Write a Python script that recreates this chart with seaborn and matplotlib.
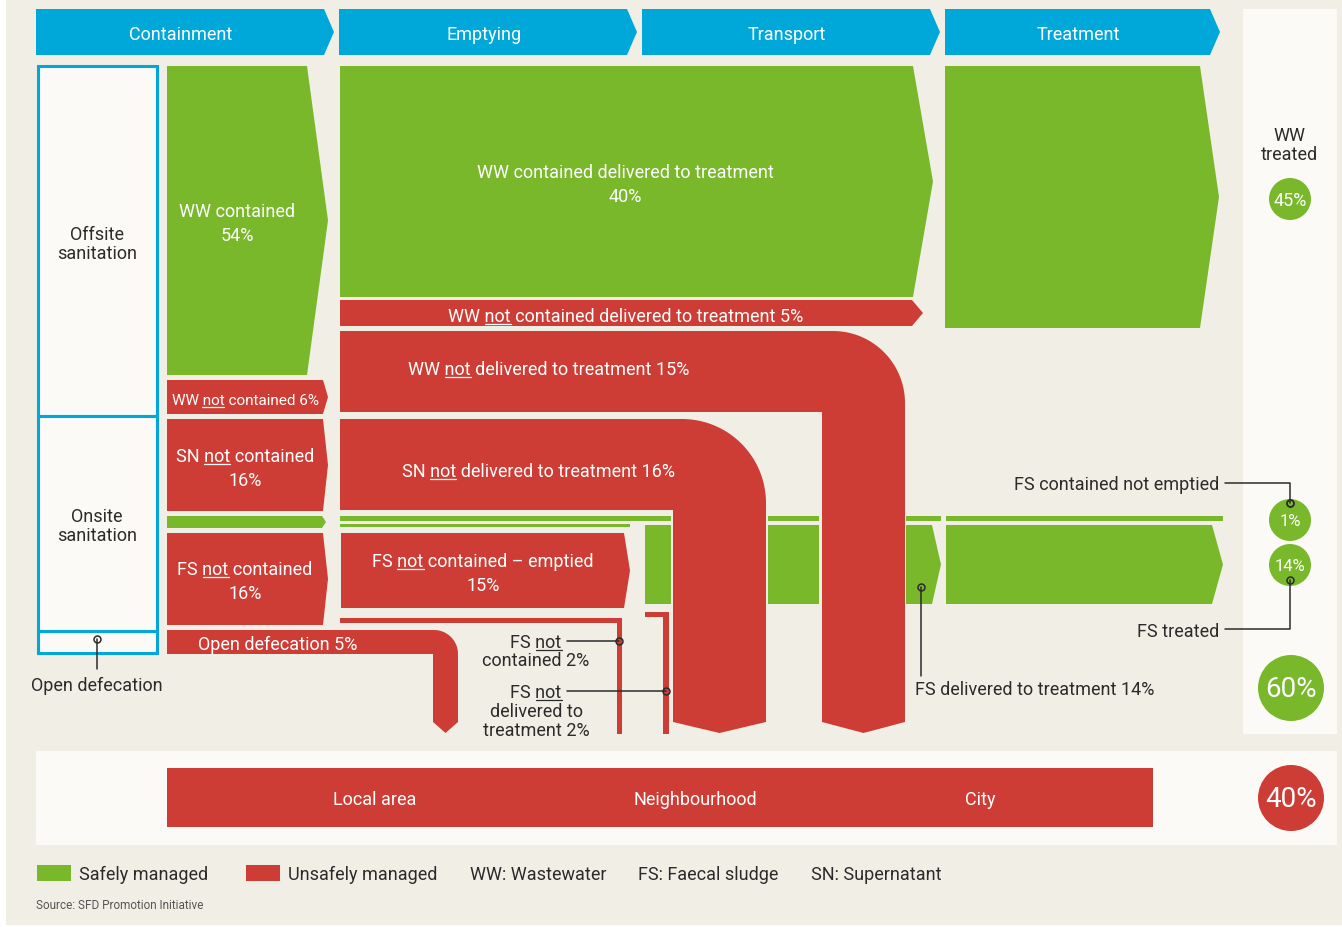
import numpy as np
import matplotlib
matplotlib.use("Agg")
import matplotlib.pyplot as plt
from matplotlib.patches import Polygon, Rectangle, Circle
import seaborn as sns

# ---------------- data ----------------
stages = ["Containment", "Emptying", "Transport", "Treatment"]
system_types = ["Offsite\nsanitation", "Onsite\nsanitation", "Open defecation"]

containment_labels = ["WW contained", "WW not contained", "SN not contained",
                      "FS not contained", "Open defecation"]
containment_values = [54, 6, 16, 16, 5]

emptying_labels = ["WW contained delivered to treatment",
                   "WW not contained delivered to treatment",
                   "WW not delivered to treatment",
                   "SN not delivered to treatment",
                   "FS not contained – emptied"]
emptying_values = [40, 5, 15, 16, 15]

fs_labels = ["FS not contained", "FS not delivered to treatment", "FS delivered to treatment"]
fs_values = [2, 2, 14]

outcome_labels = ["WW treated", "FS contained not emptied", "FS treated"]
outcome_values = [45, 1, 14]

safe_total = 60
unsafe_total = 40
exposure_areas = ["Local area", "Neighbourhood", "City"]
legend_labels = ["Safely managed", "Unsafely managed"]
abbreviations = ["WW: Wastewater", "FS: Faecal sludge", "SN: Supernatant"]
source = "Source: SFD Promotion Initiative"

# ---------------- style ----------------
sns.set_theme(style="white")
plt.rcParams["font.family"] = ["Roboto", "DejaVu Sans"]
GREEN, RED = sns.color_palette(["#79b82b", "#cd3d35"])
BLUE = "#00a8d9"
BG = "#f1efe5"
PANEL = "#fbfaf6"
INK = "#2b2b2b"
FS = 13  # base font size

fig = plt.figure(figsize=(13.42, 9.28), dpi=100)
ax = fig.add_axes([0, 0, 1, 1])
ax.set_xlim(0, 1342)
ax.set_ylim(928, 0)
ax.axis("off")
renderer = fig.canvas.get_renderer()


def rect(x0, y0, x1, y1, color, **kw):
    ax.add_patch(Rectangle((x0, y0), x1 - x0, y1 - y0, fc=color, ec="none", **kw))


def poly(pts, color):
    ax.add_patch(Polygon(pts, closed=True, fc=color, ec="none"))


def chevron(x0, y0, x1, y1, tip, color):
    ym = (y0 + y1) / 2
    poly([(x0, y0), (x1, y0), (tip, ym), (x1, y1), (x0, y1)], color)


def bend(x0, y0, y1, xi, xr, ybot, r, color):
    # horizontal band turning down into a vertical arrow
    cx, cy = xr - r, y0 + r
    t = np.linspace(np.pi / 2, 0, 40)
    arc = list(zip(cx + r * np.cos(t), cy - r * np.sin(t)))
    pts = [(x0, y0)] + arc + [(xr, ybot), ((xi + xr) / 2, ybot + 11), (xi, ybot), (xi, y1), (x0, y1)]
    poly(pts, color)


def text_width(s, size):
    tmp = ax.text(0, 0, s, fontsize=size)
    w = tmp.get_window_extent(renderer).width
    tmp.remove()
    return w


def label(x, y, lines, color="white", size=FS, ha="center", lh=24, ul=False):
    # draws lines from baseline y; underlines the first "not" when ul
    for i, line in enumerate(lines):
        yb = y + i * lh
        t = ax.text(x, yb, line, color=color, fontsize=size, ha=ha, va="baseline")
        if ul and i == 0 and "not" in line:
            bb = t.get_window_extent(renderer)
            pre = line.split("not")[0] + "not"
            xe = bb.x0 + text_width(pre, size)
            xs = xe - text_width("not", size)
            ax.plot([xs, xe], [yb + 2.5, yb + 2.5], color=color, lw=0.9)


def callout(xy_pts, end):
    xs, ys = zip(*xy_pts)
    ax.plot(xs, ys, color=INK, lw=1.1)
    ax.plot(*end, marker="o", ms=5, mfc="none", mec=INK, mew=1.1)


def disc(x, y, r, color, txt, size):
    ax.add_patch(Circle((x, y), r, fc=color, ec="none"))
    ax.text(x, y + 1, txt, color="white", fontsize=size, ha="center", va="center")


# ---------------- background & panels ----------------
rect(6, 0, 1342, 926, BG)
rect(1243, 10, 1337, 735, PANEL)
rect(36, 752, 1337, 846, PANEL)

# stage headers
head_x = [(36, 324, 334), (339, 627, 637), (642, 930, 940), (945, 1210, 1220)]
for name, (x0, x1, tip) in zip(stages, head_x):
    chevron(x0, 10, x1, 56, tip, BLUE)
    ax.text((x0 + x1) / 2 + 1, 35, name, color="white", fontsize=FS, ha="center", va="center")

# system type boxes
for (y0, y1) in [(67, 417), (417, 632), (632, 654)]:
    ax.add_patch(Rectangle((38, y0), 119, y1 - y0, fc=PANEL, ec=BLUE, lw=2.2))
label(97, 240, system_types[0].split("\n"), color=INK, lh=19)
label(97, 522, system_types[1].split("\n"), color=INK, lh=19)
callout([(97, 640), (97, 670)], (97, 640))
label(97, 691, [system_types[2]], color=INK)

# ---------------- containment ----------------
chevron(167, 67, 307, 376, 328, GREEN)
label(237, 217, [containment_labels[0], f"{containment_values[0]}%"])
chevron(167, 381, 323, 415, 328, RED)
label(245, 405, [f"{containment_labels[1]} {containment_values[1]}%"], size=11, ul=True)
chevron(167, 420, 323, 512, 328, RED)
label(245, 462, [containment_labels[2], f"{containment_values[2]}%"], ul=True)
chevron(167, 517, 322, 529, 326, GREEN)
chevron(167, 534, 323, 626, 328, RED)
label(245, 575, [containment_labels[3], f"{containment_values[3]}%"], ul=True)
bend(167, 631, 655, 433, 458, 723, 24, RED)
label(278, 650, [f"{containment_labels[4]} {containment_values[4]}%"])

# ---------------- emptying / transport ----------------
chevron(340, 67, 913, 298, 933, GREEN)
label(625, 178, [emptying_labels[0], f"{emptying_values[0]}%"])
chevron(340, 301, 912, 327, 923, RED)
label(626, 322, [f"{emptying_labels[1]} {emptying_values[1]}%"], ul=True)
bend(340, 332, 413, 822, 905, 723, 72, RED)
label(549, 375, [f"{emptying_labels[2]} {emptying_values[2]}%"], ul=True)
bend(340, 420, 511, 673, 766, 723, 84, RED)
label(538, 477, [f"{emptying_labels[3]} {emptying_values[3]}%"], ul=True)

# thin green strips (FS contained, not emptied)
for (x0, x1) in [(340, 671), (768, 819), (906, 941), (946, 1223)]:
    rect(x0, 517, x1, 522, GREEN)
rect(340, 525, 630, 528, GREEN)

chevron(341, 534, 624, 609, 630, RED)
label(483, 567, [emptying_labels[4], f"{emptying_values[4]}%"], ul=True)

# FS delivered to treatment (green blocks across emptying/transport/treatment)
rect(645, 526, 671, 605, GREEN)
rect(768, 526, 819, 605, GREEN)
chevron(906, 526, 932, 605, 941, GREEN)
chevron(946, 526, 1212, 605, 1223, GREEN)

# thin red L-shapes
rect(340, 619, 622, 624, RED)
rect(617, 619, 622, 735, RED)
rect(645, 613, 669, 618, RED)
rect(663, 613, 669, 735, RED)

callout([(567, 642), (619, 642)], (619, 642))
label(536, 648, [fs_labels[0].replace(" contained", ""), f"contained {fs_values[0]}%"],
      color=INK, lh=18, ul=True)
callout([(567, 692), (666, 692)], (666, 692))
label(536, 698, ["FS not", "delivered to", f"treatment {fs_values[1]}%"], color=INK, lh=19, ul=True)

callout([(921, 588), (921, 677)], (921, 588))
label(915, 695, [f"{fs_labels[2]} {fs_values[2]}%"], color=INK, ha="left")

# ---------------- treatment ----------------
chevron(945, 67, 1200, 329, 1219, GREEN)

label(1289, 141, outcome_labels[0].split(" "), color=INK, lh=19)
disc(1290, 200, 21, GREEN, f"{outcome_values[0]}%", 13)

callout([(1225, 484), (1290, 484), (1290, 504)], (1290, 504))
label(1219, 490, [outcome_labels[1]], color=INK, ha="right")
disc(1290, 521, 21, GREEN, f"{outcome_values[1]}%", 12)
ax.plot(1290, 504, marker="o", ms=5, mfc="none", mec=INK, mew=1.1)
disc(1290, 566, 21, GREEN, f"{outcome_values[2]}%", 12)
callout([(1290, 581), (1290, 630), (1225, 630)], (1290, 581))
label(1219, 637, [outcome_labels[2]], color=INK, ha="right")

disc(1291, 689, 33, GREEN, f"{safe_total}%", 20)
disc(1291, 799, 33, RED, f"{unsafe_total}%", 20)

# ---------------- exposure bar ----------------
rect(167, 769, 1153, 828, RED)
for xc, name in zip([375, 695, 980], exposure_areas):
    ax.text(xc, 800, name, color="white", fontsize=FS, ha="center", va="center")

# ---------------- legend ----------------
rect(37, 866, 71, 882, GREEN)
rect(246, 866, 280, 882, RED)
for xl, name in zip([79, 288, 470, 638, 811], legend_labels + abbreviations):
    ax.text(xl, 875, name, color=INK, fontsize=13, ha="left", va="center")
ax.text(36, 906, source, color="#555555", fontsize=8.5, ha="left", va="center")

fig.savefig("out.png", dpi=100, facecolor="white")
